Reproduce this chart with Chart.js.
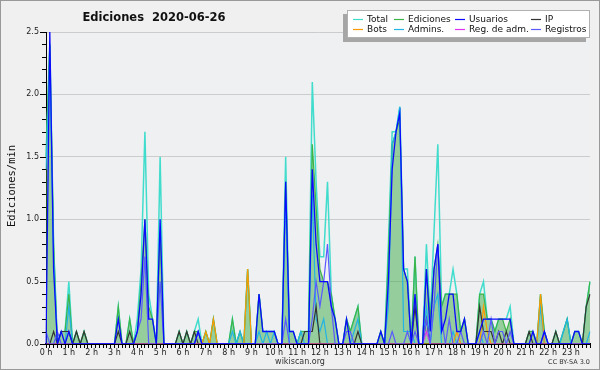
<!DOCTYPE html>
<html>
<head>
<meta charset="utf-8">
<script src="https://cdn.jsdelivr.net/npm/chart.js@4.4.0/dist/chart.umd.min.js"></script>
<style>
  body { margin: 0; background: #f0f0f0; }
  canvas { display: block; }
</style>
</head>
<body>
<canvas id="chart" width="600" height="370"></canvas>
<script>
// tick labels (one per hour), data is every 10 minutes
const hourLabels = ['0 h','1 h','2 h','3 h','4 h','5 h','6 h','7 h','8 h','9 h','10 h','11 h',
  '12 h','13 h','14 h','15 h','16 h','17 h','18 h','19 h','20 h','21 h','22 h','23 h'];
const minutes = ['00','10','20','30','40','50'];

// edits per minute, 6 values per hour
const total = [
  1.5,2.4,0.8,0,0.1,0.1,
  0.5,0,0.1,0,0.1,0,
  0,0,0,0,0,0,
  0,0.3,0,0,0.2,0,
  0.2,0.6,1.7,0.4,0.2,0,
  1.5,0,0,0,0,0.1,
  0,0.1,0,0.1,0.2,0,
  0.1,0,0.2,0,0,0,
  0,0.2,0,0.1,0,0.6,
  0,0,0.4,0.1,0.1,0.1,
  0.1,0,0,1.5,0.1,0.1,
  0,0.1,0.1,0.1,2.1,1.3,
  0.7,0.7,1.3,0.4,0.2,0,
  0,0.2,0.1,0.2,0.3,0,
  0,0,0,0,0.1,0,
  0.8,1.7,1.7,1.9,0.6,0.6,
  0,0.7,0,0,0.8,0.2,
  0.9,1.6,0.3,0.4,0.4,0.6,
  0.4,0.1,0.2,0,0,0,
  0.4,0.5,0.2,0.2,0.1,0.2,
  0.2,0.2,0.3,0,0,0,
  0,0.1,0.1,0,0.4,0.1,
  0,0,0.1,0,0.1,0.2,
  0,0.1,0.1,0,0.3,0.5
];
const ediciones = [
  1.5,2.4,0.8,0,0.1,0.1,
  0.4,0,0.1,0,0.1,0,
  0,0,0,0,0,0,
  0,0.3,0,0,0.2,0,
  0.1,0.5,1.0,0.3,0.2,0,
  0.9,0,0,0,0,0.1,
  0,0.1,0,0.1,0.1,0,
  0.1,0,0.2,0,0,0,
  0,0.2,0,0.1,0,0.6,
  0,0,0.4,0.1,0.1,0.1,
  0.1,0,0,1.3,0.1,0.1,
  0,0.1,0.1,0.1,1.6,1.1,
  0.6,0.5,0.5,0.4,0.2,0,
  0,0.2,0.1,0.2,0.3,0,
  0,0,0,0,0.1,0,
  0.7,1.6,1.7,1.8,0.6,0.5,
  0,0.7,0,0,0.6,0.2,
  0.6,0.8,0.3,0.4,0.4,0.4,
  0.4,0.1,0.2,0,0,0,
  0.4,0.4,0.2,0.2,0.1,0.2,
  0.2,0.1,0.2,0,0,0,
  0,0.1,0.1,0,0.4,0.1,
  0,0,0.1,0,0.1,0.2,
  0,0.1,0.1,0,0.3,0.5
];
const usuarios = [
  0,2.5,0.6,0,0.1,0,
  0.1,0,0,0,0,0,
  0,0,0,0,0,0,
  0,0.2,0,0,0,0,
  0.1,0.4,1.0,0.2,0.2,0,
  1.0,0,0,0,0,0,
  0,0,0,0,0.1,0,
  0,0,0,0,0,0,
  0,0,0,0,0,0,
  0,0,0.4,0.1,0.1,0.1,
  0.1,0,0,1.3,0.1,0.1,
  0,0,0,0,1.4,0.8,
  0.5,0.5,0.5,0.3,0.2,0,
  0,0.2,0,0,0,0,
  0,0,0,0,0.1,0,
  0.5,1.4,1.7,1.85,0.6,0.5,
  0,0.4,0,0,0.6,0.1,
  0.6,0.8,0.1,0.2,0.4,0.4,
  0.1,0.1,0.2,0,0,0,
  0.1,0.2,0.2,0.2,0.2,0.2,
  0.2,0.2,0.2,0,0,0,
  0,0,0.1,0,0,0.1,
  0,0,0,0,0,0,
  0,0.1,0.1,0,0,0
];
const ip = [
  0,0,0.1,0,0.1,0.1,
  0.1,0,0.1,0,0.1,0,
  0,0,0,0,0,0,
  0,0.1,0,0,0.1,0,
  0,0,0,0,0,0,
  0,0,0,0,0,0.1,
  0,0.1,0,0.1,0,0,
  0,0,0,0,0,0,
  0,0,0,0,0,0,
  0,0,0,0,0,0,
  0,0,0,0,0,0,
  0,0,0.1,0.1,0.1,0.3,
  0,0,0,0,0,0,
  0,0,0,0,0.1,0,
  0,0,0,0,0,0,
  0,0,0,0,0,0,
  0,0.3,0,0,0.2,0,
  0,0,0,0,0,0,
  0,0,0,0,0,0,
  0.3,0.1,0.1,0.1,0,0.1,
  0,0.1,0,0,0,0,
  0,0.1,0,0,0,0,
  0,0,0.1,0,0,0,
  0,0,0,0,0.3,0.4
];
const bots = [
  0,0,0,0,0,0,
  0,0,0,0,0,0,
  0,0,0,0,0,0,
  0,0,0,0,0,0,
  0,0,0,0,0,0,
  0,0,0,0,0,0,
  0,0,0,0,0,0,
  0.1,0,0.2,0,0,0,
  0,0,0,0,0,0.6,
  0,0,0,0,0,0,
  0,0,0,0,0,0,
  0,0,0,0,0,0,
  0,0,0,0,0,0,
  0,0,0,0,0,0,
  0,0,0,0,0,0,
  0,0,0,0,0,0,
  0,0,0,0,0,0,
  0,0,0,0,0,0,
  0.1,0,0,0,0,0,
  0,0.3,0.1,0,0,0,
  0,0,0,0,0,0,
  0,0,0,0,0.4,0,
  0,0,0,0,0,0,
  0,0,0,0,0,0
];
const admins = [
  1.4,2.3,0.7,0,0,0,
  0.3,0,0,0,0,0,
  0,0,0,0,0,0,
  0,0,0,0,0,0,
  0,0,0,0,0,0,
  0,0,0,0,0,0,
  0,0,0,0,0.1,0,
  0,0,0,0,0,0,
  0,0.1,0,0.1,0,0,
  0,0,0.1,0,0.1,0,
  0.1,0,0,1.2,0,0,
  0,0.1,0,0,1.2,0.2,
  0.1,0.2,0,0,0,0,
  0,0,0,0.1,0.2,0,
  0,0,0,0,0,0,
  0.3,1.6,1.7,1.9,0.1,0.1,
  0.1,0,0,0,0.3,0,
  0.3,0.4,0,0,0,0.1,
  0,0,0,0,0,0,
  0.1,0,0,0,0,0,
  0,0,0,0,0,0,
  0,0,0,0,0.3,0,
  0,0,0,0,0.1,0.2,
  0,0,0,0,0,0.1
];
const regAdm = [
  0,0,0,0,0,0,
  0,0,0,0,0,0,
  0,0,0,0,0,0,
  0,0,0,0,0,0,
  0,0,0,0,0,0,
  0,0,0,0,0,0,
  0,0,0,0,0,0,
  0,0,0,0,0,0,
  0,0,0,0,0,0,
  0,0,0,0,0,0,
  0,0,0,0,0,0,
  0,0,0,0,0,0,
  0,0,0,0,0,0,
  0,0,0,0,0,0,
  0,0,0,0,0,0,
  0,0,0,0,0,0,
  0,0,0,0,0.1,0,
  0,0,0,0,0,0,
  0,0,0,0,0,0,
  0,0,0,0,0,0,
  0,0,0,0,0,0,
  0,0,0,0,0,0,
  0,0,0,0,0,0,
  0,0,0,0,0,0
];
const registros = [
  0.1,0,0,0.1,0,0,
  0,0,0,0,0,0,
  0,0,0,0,0,0,
  0,0,0,0,0,0,
  0.1,0.2,0.7,0,0,0,
  0.5,0,0,0,0,0,
  0,0,0,0,0.1,0,
  0,0,0,0,0,0,
  0,0,0,0,0,0,
  0,0,0,0,0,0,
  0,0,0,0.2,0,0,
  0,0,0,0,0.2,0.5,
  0.3,0.5,0.8,0.3,0,0,
  0,0.1,0.1,0,0,0,
  0,0,0,0,0,0,
  0,0.1,0,0,0,0.1,
  0,0.1,0,0,0.2,0,
  0.3,0.8,0.2,0,0.2,0,
  0,0.1,0,0,0,0,
  0,0.1,0,0.2,0,0.1,
  0.1,0,0.1,0,0,0,
  0,0,0,0,0,0.1,
  0,0,0,0,0,0,
  0,0,0,0,0,0
];

const slots = [];
hourLabels.forEach(h => minutes.forEach(m => slots.push(h.replace(' h', '') + ':' + m)));

const colors = {
  'Total': '#40dccc',
  'Ediciones': '#3cb446',
  'Usuarios': '#0a0aff',
  'IP': '#333333',
  'Bots': '#ff9a00',
  'Admins.': '#22b4e4',
  'Reg. de adm.': '#dd33ee',
  'Registros': '#5a5aff'
};

const mkLine = (label, data, order, width) => ({
  label, data, order,
  borderColor: colors[label],
  borderWidth: width || 1.2,
  pointRadius: 0,
  tension: 0,
  fill: false
});

const datasets = [
  mkLine('Usuarios', usuarios, 1, 1.3),
  mkLine('Registros', registros, 2),
  mkLine('Reg. de adm.', regAdm, 3),
  mkLine('IP', ip, 4),
  mkLine('Bots', bots, 5),
  mkLine('Admins.', admins, 6),
  Object.assign(mkLine('Ediciones', ediciones, 7), {
    fill: 'origin',
    backgroundColor: 'rgba(60,170,70,0.5)'
  }),
  mkLine('Total', total, 8, 1.5)
];

const legendRows = [['Total','Ediciones','Usuarios','IP'], ['Bots','Admins.','Reg. de adm.','Registros']];
const legendX = [367, 408, 469, 545];

const isHalf = v => Math.abs(v * 2 - Math.round(v * 2)) < 1e-6;

const decor = {
  id: 'decor',
  beforeDraw(chart) {
    const { ctx, chartArea: a } = chart;
    ctx.save();
    ctx.fillStyle = '#f0f0f0';
    ctx.fillRect(0, 0, chart.width, chart.height);
    ctx.fillStyle = '#eff0f2';
    ctx.fillRect(a.left, a.top, a.right - a.left, a.bottom - a.top);
    ctx.restore();
  },
  afterDraw(chart) {
    const { ctx, chartArea: a } = chart;
    const y = chart.scales.y;
    ctx.save();
    // y ticks, longer on the labelled ones
    ctx.strokeStyle = '#000';
    ctx.lineWidth = 1;
    y.ticks.forEach(t => {
      const py = Math.round(y.getPixelForValue(t.value)) + 0.5;
      ctx.beginPath();
      ctx.moveTo(a.left - (isHalf(t.value) ? 6 : 4), py);
      ctx.lineTo(a.left, py);
      ctx.stroke();
    });

    // title
    ctx.fillStyle = '#111';
    ctx.font = 'bold 11.5px "DejaVu Sans"';
    ctx.textAlign = 'center';
    ctx.textBaseline = 'alphabetic';
    ctx.fillText('Ediciones  2020-06-26', 154, 21);

    // y title
    ctx.save();
    ctx.translate(12, 186);
    ctx.rotate(-Math.PI / 2);
    ctx.font = '10.5px "DejaVu Sans Mono"';
    ctx.textBaseline = 'middle';
    ctx.fillText('Ediciones/min', 0, 0);
    ctx.restore();

    // footer
    ctx.fillStyle = '#333';
    ctx.font = '8px "DejaVu Sans"';
    ctx.textAlign = 'center';
    ctx.fillText('wikiscan.org', 300, 364);
    ctx.font = '6.5px "DejaVu Sans"';
    ctx.textAlign = 'right';
    ctx.fillText('CC BY-SA 3.0', 590, 364);

    // legend box
    ctx.fillStyle = '#a6a6a6';
    ctx.fillRect(343, 14, 243, 28);
    ctx.fillStyle = '#ffffff';
    ctx.fillRect(347, 10, 243, 28);
    ctx.strokeStyle = '#b0b0b0';
    ctx.strokeRect(347.5, 10.5, 242, 27);
    ctx.font = '9px "DejaVu Sans"';
    ctx.textAlign = 'left';
    ctx.textBaseline = 'middle';
    legendRows.forEach((row, r) => {
      const ly = 19 + r * 10;
      row.forEach((name, c) => {
        const tx = legendX[c];
        ctx.strokeStyle = colors[name];
        ctx.lineWidth = 1.2;
        ctx.beginPath();
        ctx.moveTo(tx - 14, ly + 0.5);
        ctx.lineTo(tx - 4, ly + 0.5);
        ctx.stroke();
        ctx.fillStyle = '#111';
        ctx.fillText(name, tx, ly + 1);
      });
    });

    // frame
    ctx.strokeStyle = '#999';
    ctx.lineWidth = 1;
    ctx.strokeRect(0.5, 0.5, chart.width - 1, chart.height - 1);
    ctx.restore();
  }
};

new Chart(document.getElementById('chart'), {
  type: 'line',
  data: { labels: slots, datasets },
  options: {
    responsive: false,
    animation: false,
    layout: { padding: { left: 0, right: 10, top: 32, bottom: 0 } },
    plugins: {
      legend: { display: false },
      tooltip: { enabled: false },
      filler: { drawTime: 'beforeDatasetsDraw' }
    },
    scales: {
      x: {
        type: 'category',
        offset: false,
        grid: { drawOnChartArea: false, drawTicks: true, tickLength: 4, tickColor: '#000', offset: false },
        border: { color: '#000', width: 2 },
        ticks: {
          autoSkip: false,
          maxRotation: 0,
          padding: 0,
          color: '#222',
          font: { family: 'DejaVu Sans', size: 8 },
          callback: (v, i) => (i % 6 === 0 ? hourLabels[i / 6] : '')
        },
        afterFit: s => { s.height = 26; }
      },
      y: {
        min: 0,
        max: 2.5,
        grid: {
          drawTicks: false,
          color: c => (isHalf(c.tick.value) ? '#cccccc' : 'rgba(0,0,0,0)')
        },
        border: { color: '#000', width: 1 },
        ticks: {
          stepSize: 0.1,
          autoSkip: false,
          padding: 7,
          color: '#222',
          font: { family: 'DejaVu Sans', size: 8 },
          callback: v => (isHalf(v) ? v.toFixed(1) : '')
        },
        afterFit: s => { s.width = 46; }
      }
    }
  },
  plugins: [decor]
});
</script>
</body>
</html>
